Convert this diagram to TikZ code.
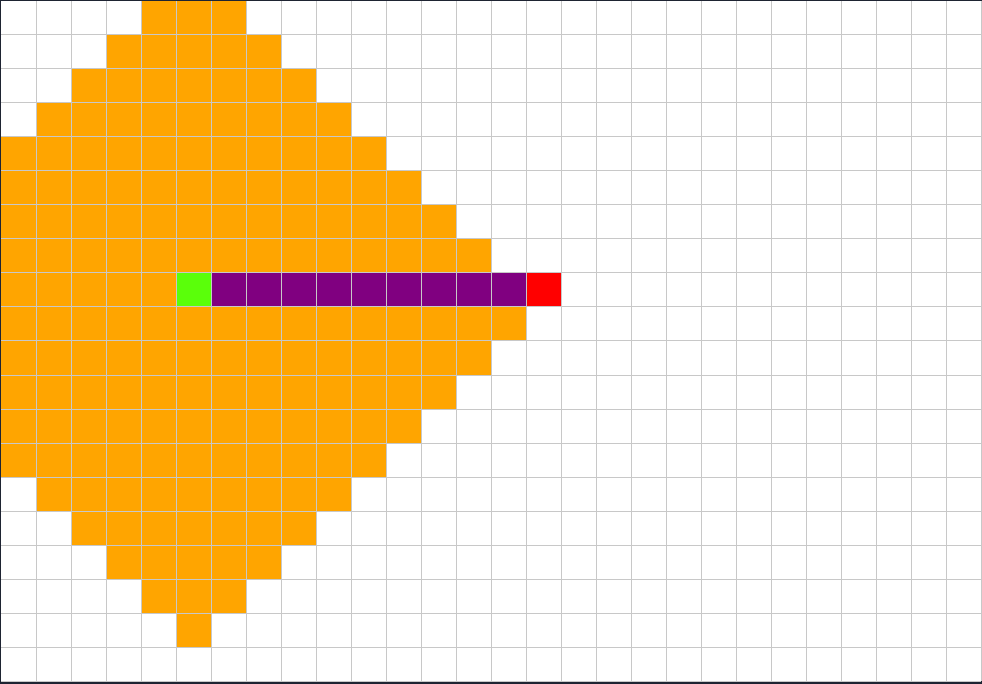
\documentclass[tikz,border=0pt]{standalone}
\definecolor{frame}{HTML}{1E2432}
\definecolor{gridgray}{HTML}{C8C8C8}
\definecolor{fillorange}{HTML}{FFA500}
\definecolor{startgreen}{HTML}{5AFF0A}
\definecolor{pathpurple}{HTML}{800080}
\definecolor{goalred}{HTML}{FF0000}
\begin{document}
\begin{tikzpicture}[x=1pt,y=-1pt,
  cell/.style={line width=0pt}]
\useasboundingbox (0,0) rectangle (982,684);
\fill[frame] (0,0) rectangle (982,684);
\fill[white] (1,1) rectangle (981,681);
% --- explored cells (row / first col / last col) ---
\foreach \r/\a/\b in {0/4/6,1/3/7,2/2/8,3/1/9,4/0/10,5/0/11,6/0/12,7/0/13,8/0/4,
  9/0/14,10/0/13,11/0/12,12/0/11,13/0/10,14/1/9,15/2/8,16/3/7,17/4/6,18/5/5}
  \fill[fillorange] (1+35*\a,1+34*\r) rectangle (1+35*\b+35,1+34*\r+34);
% --- path, start and goal ---
\fill[startgreen] (176,273) rectangle (211,307);
\fill[pathpurple] (211,273) rectangle (526,307);
\fill[goalred] (526,273) rectangle (561,307);
% --- grid ---
\foreach \c in {1,...,28}
  \draw[gridgray,line width=1pt] (1+35*\c,1) -- (1+35*\c,681);
\foreach \r in {1,...,20}
  \draw[gridgray,line width=1pt] (1,1+34*\r) -- (981,1+34*\r);
\end{tikzpicture}
\end{document}
